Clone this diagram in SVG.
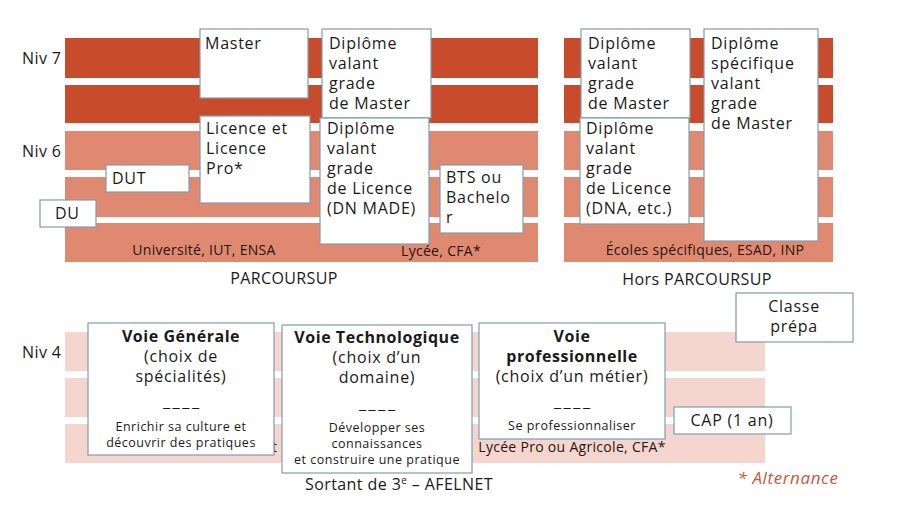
<svg xmlns="http://www.w3.org/2000/svg" width="898" height="506" viewBox="0 0 898 506">
<style>
text{font-family:"Open Sans","Noto Sans","Liberation Sans",sans-serif;fill:#1a1a1a}
.dark{fill:#C84B2C}
.light{fill:#DF8A70}
.pink{fill:#F4D6CE}
.box{fill:#fff;stroke:#7F9CB2;stroke-width:1.2}
.t16{font-size:16px;letter-spacing:0.75px}
.lab{font-size:16px;letter-spacing:0.4px}
.t12{font-size:12.5px;letter-spacing:0.5px}
.dash{font-size:12.5px;text-anchor:middle}
.tb{font-size:16px;font-weight:bold;letter-spacing:0.55px}
.c{text-anchor:middle}
.inner{font-size:14px;letter-spacing:0.3px;fill:#2a1410}
</style>
<rect width="898" height="506" fill="#fff"/>
<g id="bands">
<rect class="dark" x="65" y="38" width="473" height="40"/>
<rect class="dark" x="65" y="85" width="473" height="38"/>
<rect class="light" x="65" y="131" width="473" height="39"/>
<rect class="light" x="65" y="177" width="473" height="40"/>
<rect class="light" x="65" y="223" width="473" height="39"/>
<rect class="dark" x="564" y="38" width="269" height="40"/>
<rect class="dark" x="564" y="85" width="269" height="38"/>
<rect class="light" x="564" y="131" width="269" height="39"/>
<rect class="light" x="564" y="177" width="269" height="40"/>
<rect class="light" x="564" y="223" width="269" height="39"/>
<rect class="pink" x="65" y="332" width="700" height="39"/>
<rect class="pink" x="65" y="378" width="700" height="39"/>
<rect class="pink" x="65" y="424" width="700" height="39"/>
</g>
<g id="labels">
<text class="lab" x="22" y="64">Niv 7</text>
<text class="lab" x="22" y="157">Niv 6</text>
<text class="lab" x="22" y="358">Niv 4</text>
<text class="inner c" x="204" y="255">Université, IUT, ENSA</text>
<text class="inner c" x="441" y="256">Lycée, CFA*</text>
<text class="inner c" x="705" y="255">Écoles spécifiques, ESAD, INP</text>
<text class="lab c" x="284" y="284">PARCOURSUP</text>
<text class="lab c" x="697" y="285">Hors PARCOURSUP</text>
<text class="inner" x="272" y="452">t</text>
<text class="inner c" x="572" y="452">Lycée Pro ou Agricole, CFA*</text>
<text class="lab c" x="399" y="490">Sortant de 3<tspan font-size="10" dy="-6">e</tspan><tspan dy="6"> – AFELNET</tspan></text>
<text class="c" x="788" y="484" font-size="17" letter-spacing="0.6" font-style="italic" style="fill:#C8573B">* Alternance</text>
</g>
<g id="master">
<rect class="box" x="200" y="29" width="108" height="69"/>
<text class="t16" x="205" y="49">Master</text>
</g>
<g id="licence">
<rect class="box" x="200" y="116" width="110" height="87"/>
<text class="t16" x="206" y="134">Licence et</text>
<text class="t16" x="206" y="154">Licence</text>
<text class="t16" x="206" y="174">Pro*</text>
</g>
<g id="dut">
<rect class="box" x="106" y="165" width="83" height="27"/>
<text class="t16" x="112" y="184">DUT</text>
</g>
<g id="du">
<rect class="box" x="40" y="200" width="56" height="27"/>
<text class="t16" x="55" y="219">DU</text>
</g>
<g id="dvgm-left">
<rect class="box" x="322" y="29" width="109" height="89"/>
<text class="t16" x="329" y="49">Diplôme</text>
<text class="t16" x="329" y="69">valant</text>
<text class="t16" x="329" y="89">grade</text>
<text class="t16" x="329" y="109">de Master</text>
</g>
<g id="dvgl-left">
<rect class="box" x="320" y="118" width="109" height="126"/>
<text class="t16" x="327" y="134">Diplôme</text>
<text class="t16" x="327" y="154">valant</text>
<text class="t16" x="327" y="174">grade</text>
<text class="t16" x="327" y="194">de Licence</text>
<text class="t16" x="327" y="214">(DN MADE)</text>
</g>
<g id="bts">
<rect class="box" x="440" y="165" width="83" height="68"/>
<text class="t16" x="446" y="183">BTS ou</text>
<text class="t16" x="446" y="203">Bachelo</text>
<text class="t16" x="446" y="223">r</text>
</g>
<g id="dvgm-right">
<rect class="box" x="581" y="29" width="109" height="89"/>
<text class="t16" x="588" y="49">Diplôme</text>
<text class="t16" x="588" y="69">valant</text>
<text class="t16" x="588" y="89">grade</text>
<text class="t16" x="588" y="109">de Master</text>
</g>
<g id="dvgl-right">
<rect class="box" x="580" y="118" width="109" height="106"/>
<text class="t16" x="586" y="134">Diplôme</text>
<text class="t16" x="586" y="154">valant</text>
<text class="t16" x="586" y="174">grade</text>
<text class="t16" x="586" y="194">de Licence</text>
<text class="t16" x="586" y="214">(DNA, etc.)</text>
</g>
<g id="dsvgm">
<rect class="box" x="704" y="29" width="114" height="212"/>
<text class="t16" x="711" y="49">Diplôme</text>
<text class="t16" x="711" y="69">spécifique</text>
<text class="t16" x="711" y="89">valant</text>
<text class="t16" x="711" y="109">grade</text>
<text class="t16" x="711" y="129">de Master</text>
</g>
<g id="prepa">
<rect class="box" x="736" y="293" width="117" height="49"/>
<text class="t16 c" x="794" y="312">Classe</text>
<text class="t16 c" x="794" y="332">prépa</text>
</g>
<g id="generale">
<rect class="box" x="88" y="323" width="186" height="132"/>
<text class="tb c" x="181" y="342">Voie Générale</text>
<text class="t16 c" x="181" y="362">(choix de</text>
<text class="t16 c" x="181" y="382">spécialités)</text>
<text class="dash" transform="translate(181,412) scale(2.4,1)">----</text>
<text class="t12 c" x="181" y="431">Enrichir sa culture et</text>
<text class="t12 c" x="181" y="447">découvrir des pratiques</text>
</g>
<g id="techno">
<rect class="box" x="282" y="325" width="190" height="148"/>
<text class="tb c" x="377" y="343">Voie Technologique</text>
<text class="t16 c" x="377" y="363">(choix d’un</text>
<text class="t16 c" x="377" y="383">domaine)</text>
<text class="dash" transform="translate(377,414) scale(2.4,1)">----</text>
<text class="t12 c" x="377" y="432">Développer ses</text>
<text class="t12 c" x="377" y="448">connaissances</text>
<text class="t12 c" x="377" y="464">et construire une pratique</text>
</g>
<g id="pro">
<rect class="box" x="479" y="323" width="186" height="116"/>
<text class="tb c" x="572" y="342">Voie</text>
<text class="tb c" x="572" y="362">professionnelle</text>
<text class="t16 c" x="572" y="382">(choix d’un métier)</text>
<text class="dash" transform="translate(572,412) scale(2.4,1)">----</text>
<text class="t12 c" x="572" y="430">Se professionnaliser</text>
</g>
<g id="cap">
<rect class="box" x="674" y="407" width="117" height="27"/>
<text class="t16 c" x="732" y="426">CAP (1 an)</text>
</g>
<g id="connectors"/>
</svg>
